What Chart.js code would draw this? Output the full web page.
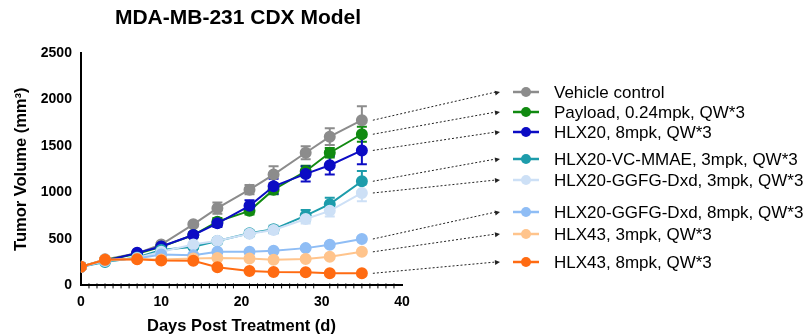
<!DOCTYPE html>
<html>
<head>
<meta charset="utf-8">
<script src="https://cdn.jsdelivr.net/npm/chart.js@4.4.1/dist/chart.umd.min.js"></script>
<style>
  html, body { margin: 0; padding: 0; background: #fff; }
  #wrap { width: 808px; height: 336px; position: relative; }
</style>
</head>
<body>
<div id="wrap"><canvas id="c"></canvas></div>
<script>
// dias de medida
const days = [0, 3, 7, 10, 14, 17, 21, 24, 28, 31, 35];

const seriesNames = [
  "Vehicle control",
  "Payload, 0.24mpk, QW*3",
  "HLX20, 8mpk, QW*3",
  "HLX20-VC-MMAE, 3mpk, QW*3",
  "HLX20-GGFG-Dxd, 3mpk, QW*3",
  "HLX20-GGFG-Dxd, 8mpk, QW*3",
  "HLX43, 3mpk, QW*3",
  "HLX43, 8mpk, QW*3"
];

// volumen medio (mm3)
const vehicle = [200, 280, 345, 440, 657, 831, 1030, 1192, 1427, 1600, 1777];
const payload = [200, 270, 340, 415, 542, 686, 802, 1030, 1228, 1427, 1626];
const hlx20 = [200, 262, 350, 419, 542, 668, 856, 1066, 1199, 1293, 1452];
const vcMmae = [200, 252, 300, 380, 415, 477, 560, 603, 751, 874, 1120];
const ggfg3 = [200, 262, 295, 361, 440, 480, 556, 596, 715, 802, 994];
const ggfg8 = [200, 270, 290, 332, 325, 361, 361, 372, 401, 437, 499];
const hlx43low = [200, 275, 285, 278, 289, 296, 289, 275, 285, 307, 361];
const hlx43high = [200, 275, 282, 267, 264, 195, 155, 145, 141, 130, 130];

// error (SEM)
const vehicleErr = [0, 10, 15, 20, 20, 60, 50, 90, 70, 90, 150];
const payloadErr = [0, 10, 10, 15, 20, 40, 40, 50, 60, 50, 80];
const hlx20Err = [0, 10, 10, 20, 30, 40, 60, 80, 80, 100, 150];
const vcMmaeErr = [0, 10, 10, 15, 20, 30, 30, 40, 60, 70, 110];
const ggfg3Err = [0, 10, 10, 15, 20, 30, 30, 40, 50, 60, 90];
const ggfg8Err = [0, 10, 10, 10, 10, 15, 15, 15, 20, 20, 25];
const hlx43lowErr = [0, 10, 10, 10, 15, 15, 15, 15, 15, 20, 20];
const hlx43highErr = [0, 10, 10, 10, 15, 15, 10, 10, 10, 10, 10];

const allValues = [vehicle, payload, hlx20, vcMmae, ggfg3, ggfg8, hlx43low, hlx43high];
const allErrors = [vehicleErr, payloadErr, hlx20Err, vcMmaeErr, ggfg3Err, ggfg8Err, hlx43lowErr, hlx43highErr];
const colors = ['#8c8c8c', '#118a11', '#0c0cc4', '#1d9cab', '#cde0f6', '#8fbdf5', '#ffc48c', '#ff6b12'];

const xTicks = [0, 10, 20, 30, 40];
const yTicks = [0, 500, 1000, 1500, 2000, 2500];

// posicion vertical de cada fila de la leyenda
const legendRows = [92, 112, 132, 159, 180, 212, 234, 262];

const FONT = "'Liberation Sans', Arial, sans-serif";

const datasets = allValues.map((vals, i) => ({
  label: seriesNames[i],
  data: vals.map((v, j) => ({ x: days[j], y: v })),
  borderColor: colors[i],
  backgroundColor: colors[i],
  pointRadius: 5,
  pointHoverRadius: 5,
  borderWidth: 2,
  order: allValues.length - i,
  errors: allErrors[i]
}));

const extras = {
  id: 'extras',
  beforeDatasetsDraw(chart) {
    const ctx = chart.ctx;
    const xs = chart.scales.x, ys = chart.scales.y;
    ctx.save();
    // barras de error
    chart.data.datasets.forEach(ds => {
      ctx.strokeStyle = ds.borderColor;
      ctx.lineWidth = 2;
      ds.data.forEach((p, j) => {
        const e = ds.errors[j];
        if (!e) return;
        const px = xs.getPixelForValue(p.x);
        const top = ys.getPixelForValue(p.y + e);
        const bot = ys.getPixelForValue(p.y - e);
        ctx.beginPath();
        ctx.moveTo(px, top); ctx.lineTo(px, bot);
        ctx.moveTo(px - 5, top); ctx.lineTo(px + 5, top);
        ctx.moveTo(px - 5, bot); ctx.lineTo(px + 5, bot);
        ctx.stroke();
      });
    });
    ctx.restore();
  },
  afterDraw(chart) {
    const ctx = chart.ctx;
    const xs = chart.scales.x, ys = chart.scales.y;
    ctx.save();
    // ticks menores eje x
    ctx.strokeStyle = '#000';
    ctx.lineWidth = 1;
    const yb = ys.getPixelForValue(0);
    for (let d = 1; d < 40; d++) {
      if (d % 10 === 0) continue;
      const px = xs.getPixelForValue(d);
      ctx.beginPath();
      ctx.moveTo(px, yb - 2); ctx.lineTo(px, yb + 3);
      ctx.stroke();
    }
    // titulo
    ctx.fillStyle = '#000';
    ctx.font = "bold 21px " + FONT;
    ctx.textAlign = 'center';
    ctx.textBaseline = 'middle';
    ctx.fillText('MDA-MB-231 CDX Model', 238, 18);

    // flechas y leyenda
    chart.data.datasets.forEach((ds, i) => {
      const last = ds.data[ds.data.length - 1];
      const sx = xs.getPixelForValue(last.x) + 11;
      const sy = ys.getPixelForValue(last.y);
      const ex = 500, ey = legendRows[i];
      ctx.strokeStyle = '#222';
      ctx.lineWidth = 1;
      ctx.setLineDash([2, 2]);
      ctx.beginPath();
      ctx.moveTo(sx, sy); ctx.lineTo(ex - 4, ey);
      ctx.stroke();
      ctx.setLineDash([]);
      const ang = Math.atan2(ey - sy, ex - sx);
      ctx.fillStyle = '#222';
      ctx.beginPath();
      ctx.moveTo(ex, ey);
      ctx.lineTo(ex - 5 * Math.cos(ang) + 2.5 * Math.sin(ang), ey - 5 * Math.sin(ang) - 2.5 * Math.cos(ang));
      ctx.lineTo(ex - 5 * Math.cos(ang) - 2.5 * Math.sin(ang), ey - 5 * Math.sin(ang) + 2.5 * Math.cos(ang));
      ctx.closePath();
      ctx.fill();

      ctx.strokeStyle = ds.borderColor;
      ctx.lineWidth = 2.5;
      ctx.beginPath();
      ctx.moveTo(513, ey); ctx.lineTo(539, ey);
      ctx.stroke();
      ctx.fillStyle = ds.borderColor;
      ctx.beginPath();
      ctx.arc(526, ey, 5, 0, Math.PI * 2);
      ctx.fill();
      ctx.fillStyle = '#000';
      ctx.font = "17px " + FONT;
      ctx.textAlign = 'left';
      ctx.fillText(ds.label, 554, ey + 1);
    });
    ctx.restore();
  }
};

new Chart(document.getElementById('c'), {
  type: 'line',
  data: { datasets },
  options: {
    responsive: true,
    maintainAspectRatio: false,
    animation: false,
    layout: { padding: { top: 53, right: 406, left: 12, bottom: 0 } },
    plugins: { legend: { display: false }, tooltip: { enabled: false }, title: { display: false } },
    scales: {
      x: {
        type: 'linear', min: 0, max: 40,
        afterBuildTicks: s => { s.ticks = xTicks.map(v => ({ value: v })); },
        grid: { display: false, drawTicks: true, tickLength: 5, tickColor: '#000', tickWidth: 1.5 },
        border: { display: true, color: '#000', width: 2 },
        ticks: { color: '#000', font: { family: FONT, size: 14, weight: 'bold' }, padding: 3, maxRotation: 0 },
        title: { display: true, text: 'Days Post Treatment (d)', color: '#000', font: { family: FONT, size: 16.5, weight: 'bold' }, padding: { top: 3, bottom: 0 } }
      },
      y: {
        type: 'linear', min: 0, max: 2500,
        afterBuildTicks: s => { s.ticks = yTicks.map(v => ({ value: v })); },
        grid: { display: false, drawTicks: true, tickLength: 7, tickColor: '#000', tickWidth: 1.5 },
        border: { display: true, color: '#000', width: 2 },
        ticks: { color: '#000', font: { family: FONT, size: 14, weight: 'bold' }, padding: 2, callback: v => String(v) },
        title: { display: true, text: 'Tumor Volume (mm³)', color: '#000', font: { family: FONT, size: 16.5, weight: 'bold' }, padding: { top: 0, bottom: 7 } }
      }
    }
  },
  plugins: [extras]
});
</script>
</body>
</html>
